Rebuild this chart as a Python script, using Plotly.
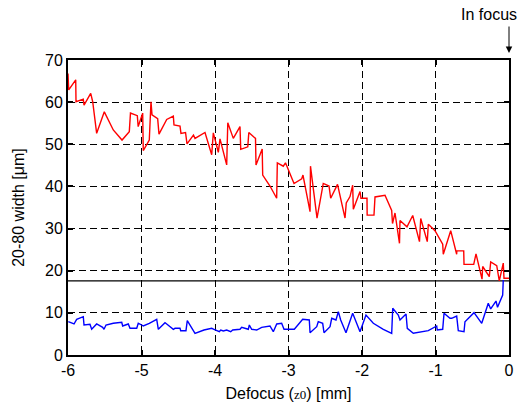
import plotly.graph_objects as go

# Red series: 20-80 width along the defocus scan (upper trace)
red_x = [-6.0, -5.99, -5.895, -5.891, -5.792, -5.782, -5.691, -5.664, -5.610, -5.506,
         -5.384, -5.265, -5.166, -5.150, -5.057, -5.045, -4.984, -4.976, -4.894, -4.871,
         -4.857, -4.780, -4.762, -4.657, -4.567, -4.558, -4.476, -4.463, -4.401, -4.381,
         -4.293, -4.272, -4.136, -4.045, -4.023, -3.955, -3.932, -3.841, -3.826, -3.751,
         -3.660, -3.650, -3.554, -3.540, -3.449, -3.442, -3.358, -3.351, -3.252, -3.161,
         -3.152, -3.071, -3.041, -2.925, -2.820, -2.803, -2.707, -2.701, -2.612, -2.527,
         -2.449, -2.426, -2.333, -2.231, -2.214, -2.163, -2.127, -2.118, -2.027, -2.014,
         -1.932, -1.930, -1.837, -1.823, -1.687, -1.596, -1.585, -1.551, -1.490, -1.483,
         -1.388, -1.310, -1.218, -1.201, -1.112, -1.098, -1.007, -0.902, -0.894, -0.793,
         -0.712, -0.710, -0.616, -0.612, -0.480, -0.449, -0.367, -0.358, -0.268, -0.249,
         -0.167, -0.132, -0.078, -0.068, 0.0]
red_y = [66.8, 62.9, 65.3, 60.1, 60.7, 59.3, 62.1, 60.1, 52.6, 57.7,
         53.4, 51.0, 53.0, 57.4, 56.8, 54.2, 57.4, 48.5, 51.0, 60.1,
         57.0, 56.1, 52.4, 55.9, 56.7, 54.6, 54.3, 52.6, 52.8, 50.1,
         52.2, 51.4, 52.8, 47.5, 52.7, 48.1, 51.3, 45.1, 55.1, 51.4,
         54.2, 48.8, 49.4, 52.8, 51.4, 45.1, 48.9, 42.7, 40.1, 37.2,
         45.6, 44.8, 45.6, 40.7, 41.8, 42.7, 34.0, 44.8, 32.5, 40.7,
         40.1, 37.2, 40.5, 32.5, 36.1, 37.6, 40.3, 34.6, 38.8, 37.2,
         37.2, 33.2, 33.2, 37.5, 37.9, 34.3, 31.2, 33.7, 26.5, 31.9,
         30.4, 33.1, 26.9, 32.4, 26.9, 31.0, 29.5, 26.3, 23.9, 29.5,
         23.9, 24.7, 24.7, 21.5, 21.5, 24.0, 18.0, 21.0, 18.6, 22.1,
         21.2, 17.6, 21.8, 18.2, 18.2]

# Blue series: lower trace
blue_x = [-5.996, -5.918, -5.882, -5.792, -5.782, -5.701, -5.678, -5.610, -5.528, -5.510,
          -5.483, -5.384, -5.269, -5.256, -5.180, -5.156, -5.065, -5.044, -4.997, -4.976,
          -4.894, -4.793, -4.771, -4.680, -4.657, -4.567, -4.544, -4.476, -4.467, -4.395,
          -4.377, -4.295, -4.272, -4.150, -4.045, -4.014, -3.941, -3.922, -3.887, -3.841,
          -3.786, -3.759, -3.660, -3.637, -3.547, -3.533, -3.501, -3.433, -3.365, -3.252,
          -3.207, -3.160, -3.093, -3.061, -2.921, -2.807, -2.717, -2.707, -2.616, -2.595,
          -2.535, -2.517, -2.435, -2.412, -2.354, -2.322, -2.290, -2.218, -2.127, -2.027,
          -1.946, -1.846, -1.710, -1.596, -1.582, -1.506, -1.483, -1.401, -1.384, -1.302,
          -1.098, -0.984, -0.976, -0.902, -0.884, -0.803, -0.780, -0.712, -0.690, -0.612,
          -0.599, -0.476, -0.371, -0.282, -0.249, -0.177, -0.156, -0.086, -0.078]
blue_y = [7.90, 7.36, 8.47, 9.09, 7.12, 7.29, 6.10, 7.36, 6.57, 6.10,
          7.12, 7.52, 7.76, 6.88, 7.36, 6.34, 6.34, 7.52, 7.12, 6.88,
          7.52, 8.47, 6.10, 7.66, 7.36, 6.10, 6.34, 6.34, 5.77, 5.77,
          8.14, 5.93, 5.15, 5.93, 6.34, 6.10, 5.53, 5.93, 5.70, 5.93,
          5.53, 5.93, 6.10, 6.57, 6.10, 7.12, 6.10, 5.93, 6.57, 6.88,
          5.53, 7.36, 7.52, 6.10, 6.10, 8.47, 8.31, 5.29, 6.72, 7.90,
          7.52, 5.29, 6.72, 8.71, 8.31, 10.28, 8.31, 5.29, 9.90, 5.53,
          9.49, 7.52, 6.10, 5.15, 11.08, 9.49, 8.31, 9.73, 6.34, 5.15,
          5.77, 6.88, 5.93, 6.10, 9.90, 8.71, 8.71, 9.25, 5.77, 5.53,
          7.90, 10.04, 7.52, 12.27, 10.92, 12.81, 11.32, 14.24, 17.8]

# Reference level (horizontal line)
ref_level = 17.6
ref_x = [-6, 0]

x_ticks = [-6, -5, -4, -3, -2, -1, 0]
y_ticks = [0, 10, 20, 30, 40, 50, 60, 70]

fig = go.Figure()
fig.add_trace(go.Scatter(x=ref_x, y=[ref_level, ref_level], mode="lines",
                         line=dict(color="black", width=1.2), hoverinfo="skip"))
fig.add_trace(go.Scatter(x=red_x, y=red_y, mode="lines",
                         line=dict(color="#ff0000", width=1.4)))
fig.add_trace(go.Scatter(x=blue_x, y=blue_y, mode="lines",
                         line=dict(color="#0000ff", width=1.4)))

font = "Liberation Sans, Arial, sans-serif"
axis_common = dict(
    showline=True, linecolor="black", linewidth=2, mirror="ticks",
    ticks="inside", ticklen=5, tickwidth=2, tickcolor="black",
    showgrid=True, gridcolor="black", gridwidth=1, griddash="7px,4px",
    zeroline=False, automargin=False,
    tickfont=dict(family=font, size=16, color="black"),
)

fig.update_layout(
    width=520, height=408,
    margin=dict(l=68, r=11, t=60, b=53),
    paper_bgcolor="white", plot_bgcolor="white",
    showlegend=False,
    font=dict(family=font, size=16, color="black"),
    xaxis=dict(range=[-6, 0], tickvals=x_ticks, ticktext=[str(v) for v in x_ticks],
               title=dict(text="Defocus (<span style='font-family:Liberation Serif;font-size:13px'>z0</span>) [mm]",
                          font=dict(family=font, size=16), standoff=10),
               **axis_common),
    yaxis=dict(range=[0, 70], tickvals=y_ticks, ticktext=[str(v) for v in y_ticks],
               title=dict(text="20-80 width [μm]", font=dict(family=font, size=16), standoff=16),
               **axis_common),
    annotations=[
        dict(x=0, y=1 + 7 / 295, xref="x", yref="paper", text="", showarrow=True,
             arrowhead=2, arrowsize=1.3, arrowwidth=1, arrowcolor="black",
             ax=0, ay=-28),
        dict(x=1, y=1 + 46 / 295, xref="paper", yref="paper", text="In focus", showarrow=False,
             xanchor="right", yanchor="middle", xshift=10,
             font=dict(family=font, size=16, color="black")),
    ],
)

fig.write_html("out.html", config={"displayModeBar": False},
               post_script="document.body.style.margin='0';document.body.style.overflow='hidden';")
